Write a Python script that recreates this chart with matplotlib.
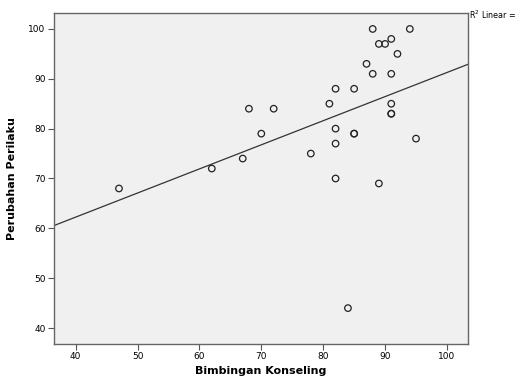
import numpy as np
import matplotlib.pyplot as plt

# Bimbingan Konseling (x) vs Perubahan Perilaku (y)
bimbingan = [47, 62, 67, 68, 70, 72, 78, 81, 82, 82, 82, 82, 84, 85, 85, 85,
             87, 88, 88, 89, 90, 89, 91, 91, 91, 91, 91, 92, 94, 95]
perilaku = [68, 72, 74, 84, 79, 84, 75, 85, 88, 80, 77, 70, 44, 88, 79, 79,
            93, 100, 91, 97, 97, 69, 98, 91, 85, 83, 83, 95, 100, 78]
xticks = [40, 50, 60, 70, 80, 90, 100]
yticks = [40, 50, 60, 70, 80, 90, 100]

fig = plt.figure(figsize=(5.15, 3.78), dpi=100)
ax = fig.add_axes([54 / 515, 1 - 344 / 378, 414 / 515, 331 / 378])
ax.set_facecolor('#f0f0f0')

ax.scatter(bimbingan, perilaku, s=22, facecolors='none', edgecolors='#222222',
           linewidths=0.9, zorder=3)

xlim = (36.5, 103.4)
slope, icpt = np.polyfit(bimbingan, perilaku, 1)
xs = np.array(xlim)
ax.plot(xs, slope * xs + icpt, color='#333333', lw=0.9, zorder=2)

ax.set_xlim(*xlim)
ax.set_ylim(36.8, 103.2)
ax.set_xticks(xticks)
ax.set_yticks(yticks)
ax.tick_params(labelsize=6.5, length=4, width=0.8, color='#555555', pad=2)
for s in ax.spines.values():
    s.set_color('#666666')
    s.set_linewidth(1.0)

ax.set_xlabel('Bimbingan Konseling', fontsize=8, fontweight='bold', labelpad=3)
ax.set_ylabel('Perubahan Perilaku', fontsize=8, fontweight='bold', labelpad=8)

fig.text(469 / 515, 1 - 15 / 378, 'R$^2$ Linear =', fontsize=5.8, va='center', ha='left')

fig.savefig('out.png', dpi=100)
